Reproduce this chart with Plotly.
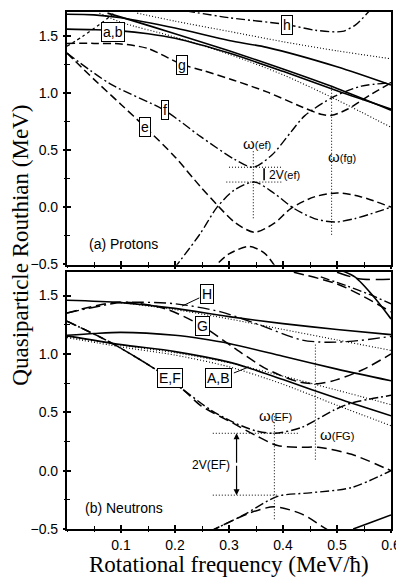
import plotly.graph_objects as go

# ---------------- (a) Protons: quasiparticle Routhians vs rotational frequency
p_top_x = [0.0, 0.05, 0.1, 0.2, 0.3, 0.37, 0.5, 0.6]
p_top_y = [1.69, 1.685, 1.66, 1.57, 1.46, 1.40, 1.23, 1.07]

p_mid_x = [0.075, 0.1, 0.2, 0.3, 0.4, 0.5, 0.6]
p_mid_y = [1.70, 1.665, 1.52, 1.37, 1.21, 1.04, 0.85]

p_ab_x = [0.0, 0.05, 0.1, 0.15, 0.2, 0.3, 0.4, 0.5, 0.6]
p_ab_y = [1.56, 1.555, 1.545, 1.52, 1.48, 1.35, 1.19, 1.02, 0.86]

p_dot1_x = [0.13, 0.2, 0.3, 0.4, 0.5, 0.6]
p_dot1_y = [1.70, 1.63, 1.54, 1.45, 1.37, 1.30]

p_dot2_x = [0.06, 0.1, 0.2, 0.3, 0.4, 0.5, 0.6]
p_dot2_y = [1.70, 1.62, 1.49, 1.34, 1.16, 0.94, 0.70]

p_rise_x = [0.0, 0.03, 0.06, 0.09]
p_rise_y = [1.41, 1.50, 1.60, 1.71]

p_g_x = [0.0, 0.05, 0.1, 0.15, 0.213, 0.25, 0.31, 0.37, 0.434, 0.47, 0.49, 0.52, 0.56, 0.6]
p_g_y = [1.435, 1.435, 1.43, 1.39, 1.25, 1.20, 1.11, 1.01, 0.88, 0.815, 0.805, 0.86, 0.98, 1.09]

p_h_x = [0.22, 0.3, 0.407, 0.46, 0.51, 0.535, 0.56]
p_h_y = [1.72, 1.66, 1.60, 1.55, 1.54, 1.60, 1.72]

p_f_x = [0.0, 0.08, 0.18, 0.247, 0.31, 0.345, 0.38, 0.415, 0.44, 0.495, 0.545, 0.6]
p_f_y = [1.35, 1.08, 0.85, 0.62, 0.42, 0.35, 0.46, 0.66, 0.80, 0.97, 1.06, 1.09]

p_e_x = [0.0, 0.05, 0.1, 0.145, 0.2, 0.247, 0.278, 0.31, 0.347, 0.384, 0.415, 0.458, 0.5, 0.545, 0.6]
p_e_y = [1.35, 1.12, 0.90, 0.70, 0.44, 0.18, 0.02, -0.13, -0.22, -0.14, -0.01, 0.09, 0.125, 0.09, 0.0]

p_low_x = [0.198, 0.247, 0.278, 0.31, 0.347, 0.384, 0.42, 0.458, 0.496, 0.533, 0.6]
p_low_y = [-0.54, -0.23, 0.0, 0.15, 0.22, 0.12, -0.01, -0.10, -0.13, -0.10, 0.0]

p_bump_x = [0.265, 0.3, 0.337, 0.365, 0.39]
p_bump_y = [-0.56, -0.41, -0.345, -0.40, -0.55]

# crossing frequencies and interaction gap (protons)
p_w_ef = 0.345
p_w_fg = 0.49
p_ef_upper = 0.35
p_ef_lower = 0.22

# ---------------- (b) Neutrons
n_s1_x = [0.0, 0.1, 0.2, 0.3, 0.4, 0.5, 0.6]
n_s1_y = [1.46, 1.44, 1.39, 1.32, 1.26, 1.21, 1.165]

n_d1_x = [0.1, 0.2, 0.3, 0.4, 0.5, 0.6]
n_d1_y = [1.44, 1.38, 1.30, 1.21, 1.12, 1.03]

n_s2_x = [0.0, 0.05, 0.1, 0.2, 0.25, 0.3, 0.4, 0.5, 0.6]
n_s2_y = [1.16, 1.175, 1.185, 1.16, 1.13, 1.09, 0.98, 0.87, 0.77]

n_s3_x = [0.0, 0.1, 0.2, 0.3, 0.337, 0.4, 0.5, 0.6]
n_s3_y = [1.155, 1.08, 1.02, 0.93, 0.88, 0.78, 0.62, 0.47]

n_d3a_x = [0.0, 0.1, 0.2, 0.3, 0.4, 0.5, 0.6]
n_d3a_y = [1.15, 1.075, 1.01, 0.925, 0.81, 0.69, 0.565]

n_d3b_x = [0.0, 0.1, 0.2, 0.3, 0.4, 0.5, 0.6]
n_d3b_y = [1.14, 1.06, 0.99, 0.89, 0.74, 0.56, 0.385]

n_h_x = [0.0, 0.05, 0.1, 0.2, 0.285, 0.35, 0.434, 0.48, 0.53, 0.6]
n_h_y = [1.35, 1.40, 1.44, 1.43, 1.36, 1.26, 1.12, 1.10, 1.11, 1.15]

n_g_x = [0.0, 0.05, 0.1, 0.18, 0.25, 0.31, 0.37, 0.43, 0.465, 0.5, 0.55, 0.6]
n_g_y = [1.35, 1.41, 1.445, 1.39, 1.24, 1.05, 0.87, 0.76, 0.745, 0.78, 0.87, 1.0]

n_f_x = [0.0, 0.08, 0.163, 0.216, 0.266, 0.31, 0.35, 0.384, 0.434, 0.495, 0.527, 0.6]
n_f_y = [1.28, 1.10, 0.87, 0.69, 0.52, 0.41, 0.34, 0.32, 0.37, 0.52, 0.58, 0.645]

n_e_x = [0.0, 0.08, 0.163, 0.216, 0.247, 0.31, 0.35, 0.39, 0.434, 0.465, 0.527, 0.59, 0.6]
n_e_y = [1.28, 1.10, 0.87, 0.69, 0.56, 0.40, 0.30, 0.215, 0.20, 0.20, 0.14, 0.02, 0.0]

n_low_x = [0.265, 0.327, 0.39, 0.45, 0.527, 0.6]
n_low_y = [-0.52, -0.38, -0.22, -0.19, -0.145, 0.0]

n_bump_x = [0.265, 0.34, 0.384, 0.434, 0.47, 0.49]
n_bump_y = [-0.52, -0.36, -0.31, -0.37, -0.47, -0.53]

n_sl_x = [0.53, 0.565, 0.6]
n_sl_y = [-0.50, -0.44, -0.38]

n_tr_s_x = [0.505, 0.533, 0.57, 0.6]
n_tr_s_y = [1.72, 1.66, 1.48, 1.30]

n_tr_d_x = [0.42, 0.5, 0.55, 0.6]
n_tr_d_y = [1.70, 1.60, 1.49, 1.36]

n_tr_dd_x = [0.47, 0.52, 0.56, 0.6]
n_tr_dd_y = [1.66, 1.58, 1.51, 1.43]

n_tr_ld_x = [0.5, 0.54, 0.6]
n_tr_ld_y = [1.70, 1.645, 1.64]

# crossing frequencies and interaction gap (neutrons)
n_w_ef = 0.384
n_w_fg = 0.46
n_ef_upper = 0.32
n_ef_lower = -0.21
n_gap_x = 0.314

x_ticks = [0.1, 0.2, 0.3, 0.4, 0.5, 0.6]
y_ticks = [-0.5, 0.0, 0.5, 1.0, 1.5]

SOLID = "solid"
DASH = "8px,4px"
LDASH = "10px,5px"
DASHDOT = "9px,3px,2px,3px"
LDASHDOT = "12px,4px,2px,4px"
DOT = "1px,2px"
SHORT = "3px,3px"

fig = go.Figure()


def curve(x, y, dash, width, panel):
    xa, ya = ("x", "y") if panel == "a" else ("x2", "y2")
    fig.add_trace(go.Scatter(
        x=x, y=y, mode="lines", xaxis=xa, yaxis=ya,
        line=dict(color="black", width=width, dash=dash, shape="spline", smoothing=0.8),
        hoverinfo="skip", showlegend=False))


def guide(x, y, panel, width=1.0, dash=DOT):
    xa, ya = ("x", "y") if panel == "a" else ("x2", "y2")
    fig.add_trace(go.Scatter(
        x=x, y=y, mode="lines", xaxis=xa, yaxis=ya,
        line=dict(color="black", width=width, dash=dash),
        hoverinfo="skip", showlegend=False))


# protons
curve(p_top_x, p_top_y, SOLID, 1.6, "a")
curve(p_mid_x, p_mid_y, SOLID, 1.6, "a")
curve(p_ab_x, p_ab_y, SOLID, 1.6, "a")
curve(p_dot1_x, p_dot1_y, DOT, 1.1, "a")
curve(p_dot2_x, p_dot2_y, DOT, 1.1, "a")
curve(p_rise_x, p_rise_y, SHORT, 1.3, "a")
curve(p_g_x, p_g_y, DASH, 1.5, "a")
curve(p_h_x, p_h_y, DASHDOT, 1.4, "a")
curve(p_f_x, p_f_y, DASHDOT, 1.4, "a")
curve(p_e_x, p_e_y, DASH, 1.5, "a")
curve(p_low_x, p_low_y, DASHDOT, 1.4, "a")
curve(p_bump_x, p_bump_y, DASH, 1.5, "a")

guide([p_w_ef, p_w_ef], [0.49, -0.10], "a")
guide([0.30, 0.40], [p_ef_upper, p_ef_upper], "a")
guide([0.295, 0.40], [p_ef_lower, p_ef_lower], "a")
guide([p_w_fg, p_w_fg], [1.055, -0.245], "a")
guide([0.365, 0.365], [p_ef_upper - 0.01, p_ef_lower + 0.015], "a", width=1.6, dash="solid")

# neutrons
curve(n_s1_x, n_s1_y, SOLID, 1.6, "b")
curve(n_d1_x, n_d1_y, DOT, 1.1, "b")
curve(n_s2_x, n_s2_y, SOLID, 1.6, "b")
curve(n_s3_x, n_s3_y, SOLID, 1.6, "b")
curve(n_d3a_x, n_d3a_y, DOT, 1.1, "b")
curve(n_d3b_x, n_d3b_y, DOT, 1.1, "b")
curve(n_h_x, n_h_y, LDASHDOT, 1.4, "b")
curve(n_g_x, n_g_y, LDASH, 1.5, "b")
curve(n_f_x, n_f_y, DASHDOT, 1.5, "b")
curve(n_e_x, n_e_y, LDASH, 1.5, "b")
curve(n_low_x, n_low_y, DASHDOT, 1.4, "b")
curve(n_bump_x, n_bump_y, LDASH, 1.5, "b")
curve(n_sl_x, n_sl_y, SOLID, 1.6, "b")
curve(n_tr_s_x, n_tr_s_y, SOLID, 1.6, "b")
curve(n_tr_d_x, n_tr_d_y, LDASH, 1.5, "b")
curve(n_tr_dd_x, n_tr_dd_y, DASHDOT, 1.4, "b")
curve(n_tr_ld_x, n_tr_ld_y, "14px,6px", 1.5, "b")

guide([n_w_ef, n_w_ef], [0.466, -0.42], "b")
guide([0.27, 0.43], [n_ef_upper, n_ef_upper], "b")
guide([0.27, 0.39], [n_ef_lower, n_ef_lower], "b")
guide([n_w_fg, n_w_fg], [1.08, 0.08], "b")

# invisible traces to carry the outer tick overlays
for xa, ya in (("x3", "y3"), ("x4", "y4")):
    fig.add_trace(go.Scatter(x=[None], y=[None], xaxis=xa, yaxis=ya, mode="lines",
                             showlegend=False, hoverinfo="skip"))

LABEL_FONT = dict(family="Liberation Sans, Arial, sans-serif", size=14, color="black")
ann = []


def box(text, x, y, panel):
    xa, ya = ("x", "y") if panel == "a" else ("x2", "y2")
    ann.append(dict(text=text, x=x, y=y, xref=xa, yref=ya, showarrow=False,
                    font=LABEL_FONT, bgcolor="white", bordercolor="black",
                    borderwidth=1, borderpad=1))


def note(text, x, y, panel, size=14, xanchor="center"):
    xa, ya = ("x", "y") if panel == "a" else ("x2", "y2")
    ann.append(dict(text=text, x=x, y=y, xref=xa, yref=ya, showarrow=False,
                    xanchor=xanchor,
                    font=dict(family="Liberation Sans, Arial, sans-serif", size=size, color="black")))


box("a,b", 0.086, 1.538, "a")
box("g", 0.213, 1.245, "a")
box("h", 0.407, 1.596, "a")
box("f", 0.182, 0.85, "a")
box("e", 0.145, 0.70, "a")
note("ω<span style='font-size:11px'>(ef)</span>", 0.352, 0.56, "a", size=15)
note("ω<span style='font-size:11px'>(fg)</span>", 0.51, 0.44, "a", size=15)
note("2V<span style='font-size:11px'>(ef)</span>", 0.371, 0.28, "a", size=12, xanchor="left")
note("(a) Protons", 0.037, -0.32, "a", size=14, xanchor="left")

box("H", 0.26, 1.51, "b")
box("G", 0.25, 1.24, "b")
box("E,F", 0.19, 0.795, "b")
box("A,B", 0.281, 0.795, "b")
note("ω<span style='font-size:11px'>(EF)</span>", 0.387, 0.47, "b", size=15)
note("ω<span style='font-size:11px'>(FG)</span>", 0.50, 0.31, "b", size=15)
note("2V(EF)", 0.305, 0.05, "b", size=12, xanchor="right")
note("(b) Neutrons", 0.03, -0.32, "b", size=14, xanchor="left")

# leader lines for H and A,B
guide([0.213, 0.245], [1.41, 1.48], "b", width=1.0, dash="solid")
guide([0.309, 0.337], [0.837, 0.889], "b", width=1.0, dash="solid")

# double arrow for the neutron interaction gap
mid = 0.5 * (n_ef_upper + n_ef_lower)
for tip in (n_ef_upper, n_ef_lower):
    ann.append(dict(x=n_gap_x, y=tip, ax=n_gap_x, ay=mid, xref="x2", yref="y2",
                    axref="x2", ayref="y2", showarrow=True, arrowhead=2, arrowsize=1,
                    arrowwidth=1.2, arrowcolor="black", text=""))

# axis titles
TITLE_FONT = dict(family="Liberation Serif, Times New Roman, serif", size=23, color="black")
ann.append(dict(text="Quasiparticle Routhian (MeV)", x=-0.142, y=0.55, xref="paper",
                yref="paper", textangle=-90, showarrow=False, xanchor="center",
                yanchor="middle", font=TITLE_FONT))
ann.append(dict(text="Rotational frequency (MeV/ħ)", x=0.5, y=-0.069, xref="paper",
                yref="paper", showarrow=False, xanchor="center", yanchor="middle",
                font=TITLE_FONT))

TICK_FONT = dict(family="Liberation Sans, Arial, sans-serif", size=14, color="black")
top_dom = [0.511, 1.0]
bot_dom = [0.0, 0.498]
x_rng = [0.0, 0.6]
ya_rng = [-0.505, 1.71]
yb_rng = [-0.5, 1.706]

# main axes: frame, labels and inner tick halves
common_x = dict(range=x_rng, showline=True, linewidth=2.2, linecolor="black", mirror=True,
                ticks="inside", ticklen=4, tickwidth=1.5, tickcolor="black",
                tickvals=x_ticks, showgrid=False, zeroline=False, automargin=False,
                ticklabeloverflow="allow",
                minor=dict(dtick=0.05, tick0=0, ticks="inside", ticklen=3, tickwidth=1.2,
                           tickcolor="black", showgrid=False))
common_y = dict(showline=True, linewidth=2.2, linecolor="black", mirror=True,
                ticks="inside", ticklen=4, tickwidth=1.5, tickcolor="black",
                tickvals=y_ticks, tickformat=".1f", showgrid=False, zeroline=False,
                tickfont=TICK_FONT, ticklabelstandoff=4, automargin=False,
                minor=dict(dtick=0.25, tick0=0, ticks="inside", ticklen=3, tickwidth=1.2,
                           tickcolor="black", showgrid=False))
# overlay axes: outer tick halves only
outer_x = dict(range=x_rng, ticks="outside", ticklen=3, tickwidth=1.5, tickcolor="black",
               tickvals=x_ticks, showticklabels=False, showgrid=False, zeroline=False,
               showline=False, automargin=False,
               minor=dict(dtick=0.05, tick0=0, ticks="outside", ticklen=2, tickwidth=1.2,
                          tickcolor="black", showgrid=False))
outer_y = dict(ticks="outside", ticklen=3, tickwidth=1.5, tickcolor="black",
               tickvals=y_ticks, showticklabels=False, showgrid=False, zeroline=False,
               showline=False, automargin=False,
               minor=dict(dtick=0.25, tick0=0, ticks="outside", ticklen=2, tickwidth=1.2,
                          tickcolor="black", showgrid=False))

fig.update_layout(
    width=396, height=579,
    margin=dict(l=67, r=5, t=12, b=50),
    paper_bgcolor="white", plot_bgcolor="white",
    showlegend=False,
    annotations=ann,
    xaxis=dict(common_x, anchor="y", showticklabels=False),
    yaxis=dict(common_y, anchor="x", domain=top_dom, range=ya_rng),
    xaxis2=dict(common_x, anchor="y2", tickfont=TICK_FONT, tickformat=".1f",
                ticklabelstandoff=2),
    yaxis2=dict(common_y, anchor="x2", domain=bot_dom, range=yb_rng),
    xaxis3=dict(outer_x, overlaying="x", anchor="y3"),
    yaxis3=dict(outer_y, overlaying="y", anchor="x3", range=ya_rng),
    xaxis4=dict(outer_x, overlaying="x2", anchor="y4"),
    yaxis4=dict(outer_y, overlaying="y2", anchor="x4", range=yb_rng),
)

fig.write_html("out.html")
